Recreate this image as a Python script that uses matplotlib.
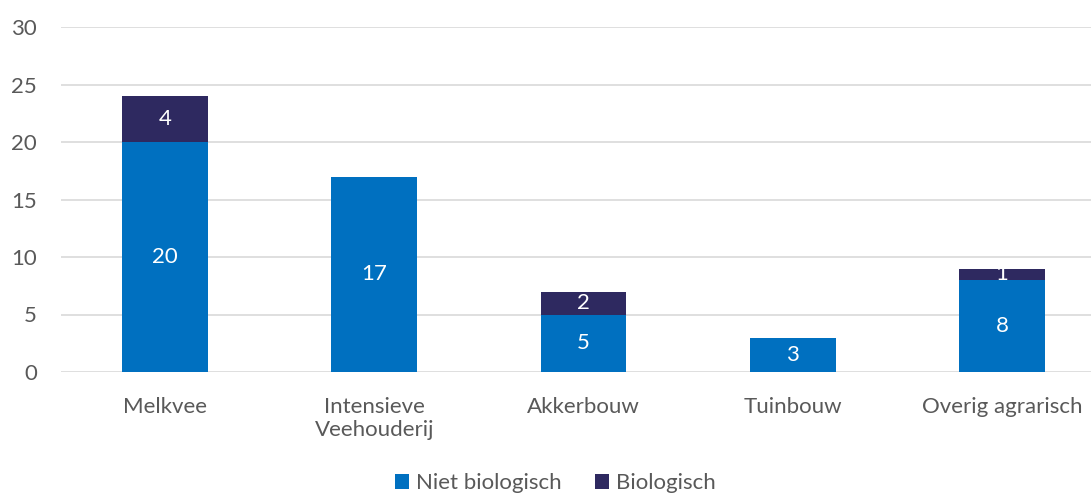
import matplotlib
matplotlib.use('Agg')
import matplotlib.pyplot as plt
import numpy as np

# data
categories = ['Melkvee', 'Intensieve\nVeehouderij', 'Akkerbouw', 'Tuinbouw', 'Overig agrarisch']
niet_bio = [20, 17, 5, 3, 8]
bio = [4, 0, 2, 0, 1]
y_ticks = [0, 5, 10, 15, 20, 25, 30]

BLUE = '#0070C0'
DARK = '#2E2960'
GRID = '#D9D9D9'
TEXT = '#595959'
FS = 16

plt.rcParams['font.family'] = ['Lato', 'DejaVu Sans']

fig = plt.figure(figsize=(10.91, 4.98), dpi=100, facecolor='white')
ax = fig.add_axes([60.5 / 1091, 1 - 372 / 498, 1046 / 1091, 345 / 498])

xs = np.arange(len(categories))
W = 0.41
ax.bar(xs, niet_bio, width=W, color=BLUE, label='Niet biologisch', zorder=3)
ax.bar(xs, bio, width=W, bottom=niet_bio, color=DARK, label='Biologisch', zorder=3)

for x, n, b in zip(xs, niet_bio, bio):
    ax.text(x, n / 2, str(n), color='white', ha='center', va='center', fontsize=FS, zorder=4)
    if b:
        ax.text(x, n + b / 2, str(b), color='white', ha='center', va='center', fontsize=FS, zorder=4)

ax.set_xlim(-0.5, len(categories) - 0.5)
ax.set_ylim(0, 30)
ax.set_yticks(y_ticks)
ax.set_xticks(xs)
ax.set_xticklabels(categories, fontsize=FS, color=TEXT, linespacing=1.2)
ax.tick_params(axis='y', labelsize=FS, labelcolor=TEXT, length=0, pad=17)
ax.tick_params(axis='x', length=0, pad=18)
ax.grid(axis='y', color=GRID, linewidth=1.2, zorder=0)
for sp in ax.spines.values():
    sp.set_visible(False)

leg = fig.legend(loc='lower center', bbox_to_anchor=(555 / 1091, -0.03), ncol=2, frameon=False,
                 fontsize=FS, handlelength=0.65, handleheight=0.65, handletextpad=0.3,
                 columnspacing=1.5)
for t in leg.get_texts():
    t.set_color(TEXT)

fig.savefig('out.png', dpi=100, facecolor='white')
